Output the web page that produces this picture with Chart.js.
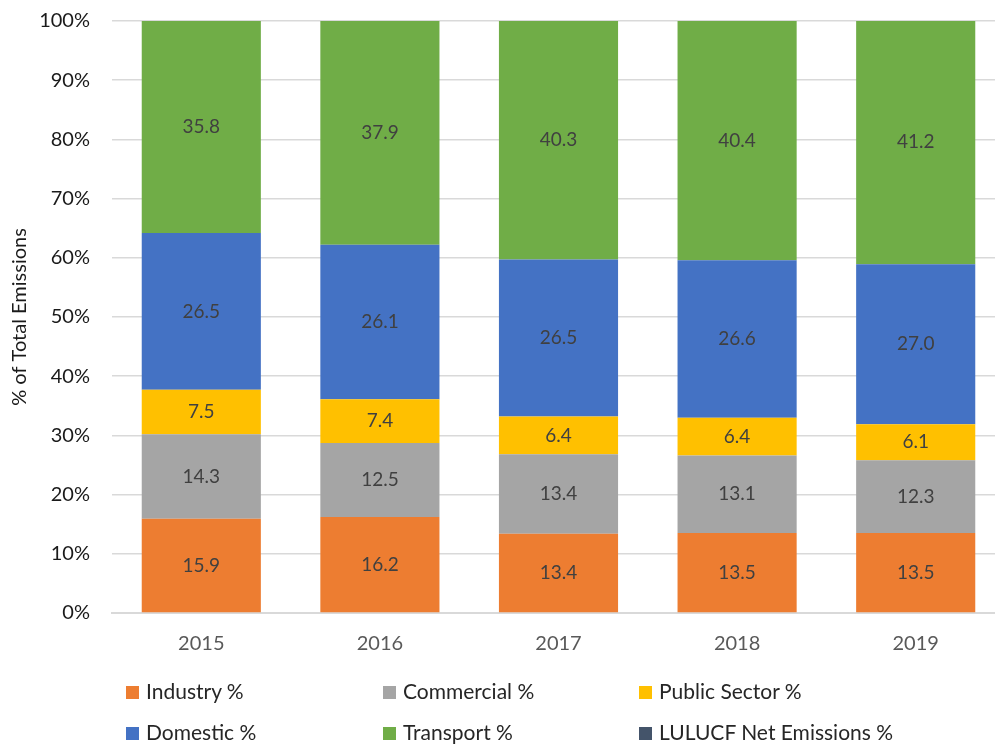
<!DOCTYPE html>
<html lang="en">
<head>
    <meta charset="UTF-8">
    <title>Emissions by sector</title>
    <script src="https://cdn.jsdelivr.net/npm/chart.js@4.4.0/dist/chart.umd.min.js"></script>
    <style>
        html, body { margin: 0; padding: 0; background: #fff; overflow: hidden; }
        #chart_parent { position: relative; width: 1005px; height: 745px; }
        .legend { position: absolute; font-family: Lato, "Noto Sans", sans-serif; font-size: 21px; color: #262626; }
        .legend span.box { display: inline-block; width: 13px; height: 13px; margin-right: 7px; vertical-align: 0px; }
    </style>
</head>
<body>
<div id="chart_parent">
    <canvas id="myChart" width="1005" height="745"></canvas>
    <div id="legend"></div>
</div>
<script>
    var years = ['2015', '2016', '2017', '2018', '2019'];
    var industry   = [15.9, 16.2, 13.4, 13.5, 13.5];
    var commercial = [14.3, 12.5, 13.4, 13.1, 12.3];
    var publicSec  = [7.5, 7.4, 6.4, 6.4, 6.1];
    var domestic   = [26.5, 26.1, 26.5, 26.6, 27.0];
    var transport  = [35.8, 37.9, 40.3, 40.4, 41.2];
    var lulucf     = [0, 0, 0, 0, 0];
    var yTicks = [0, 10, 20, 30, 40, 50, 60, 70, 80, 90, 100];

    var FONT = 'Lato, "Noto Sans", sans-serif';

    var series = [
        { label: 'Industry %', data: industry, color: '#ED7D31' },
        { label: 'Commercial %', data: commercial, color: '#A5A5A5' },
        { label: 'Public Sector %', data: publicSec, color: '#FFC000' },
        { label: 'Domestic %', data: domestic, color: '#4472C4' },
        { label: 'Transport %', data: transport, color: '#70AD47' },
        { label: 'LULUCF Net Emissions %', data: lulucf, color: '#44546A' }
    ];

    // legend: 3 columns, 2 rows (like excel)
    var legendPos = [[126, 678], [383, 678], [639, 678], [126, 719], [383, 719], [639, 719]];
    var legendDiv = document.getElementById('legend');
    series.forEach(function(s, i){
        var d = document.createElement('div');
        d.className = 'legend';
        d.style.left = legendPos[i][0] + 'px';
        d.style.top = legendPos[i][1] + 'px';
        d.innerHTML = '<span class="box" style="background:' + s.color + '"></span>' + s.label;
        legendDiv.appendChild(d);
    });

    // values written in the middle of each segment
    var valueLabels = {
        id: 'valueLabels',
        afterDatasetsDraw: function(chart){
            var ctx = chart.ctx;
            ctx.save();
            ctx.font = '19px ' + FONT;
            ctx.fillStyle = '#404040';
            ctx.textAlign = 'center';
            ctx.textBaseline = 'middle';
            chart.data.datasets.forEach(function(ds, i){
                if (!ds.data.some(function(v){ return v > 0; })) return;
                chart.getDatasetMeta(i).data.forEach(function(bar, j){
                    var mid = (bar.y + bar.base) / 2;
                    ctx.fillText(ds.data[j].toFixed(1), bar.x, mid);
                });
            });
            ctx.restore();
        }
    };

    const ctx = document.getElementById('myChart').getContext('2d');
    const myChart = new Chart(ctx, {
        type: 'bar',
        data: {
            labels: years,
            datasets: series.map(function(s){
                return {
                    label: s.label,
                    data: s.data,
                    backgroundColor: s.color,
                    borderWidth: 0,
                    barPercentage: 0.667,
                    categoryPercentage: 1.0
                };
            })
        },
        options: {
            responsive: false,
            animation: false,
            layout: { padding: { top: 21, right: 0, bottom: 70, left: 8 } },
            plugins: {
                legend: { display: false },
                tooltip: { enabled: false }
            },
            scales: {
                x: {
                    stacked: true,
                    grid: { display: false, drawTicks: false },
                    border: { display: true, color: '#D9D9D9', width: 2 },
                    ticks: { color: '#595959', padding: 19, font: { family: FONT, size: 20 } }
                },
                y: {
                    stacked: true,
                    min: 0,
                    max: 100,
                    afterBuildTicks: function(scale){
                        scale.ticks = yTicks.map(function(v){ return { value: v }; });
                    },
                    afterFit: function(scale){
                        scale.width = 104;
                        scale.paddingTop = 0;
                        scale.paddingBottom = 0;
                    },
                    grid: { color: '#D9D9D9', lineWidth: 1.5, drawTicks: false },
                    border: { display: false },
                    ticks: {
                        color: '#1a1a1a',
                        padding: 22,
                        font: { family: FONT, size: 20 },
                        callback: function(v){ return v + '%'; }
                    },
                    title: {
                        display: true,
                        text: '% of Total Emissions',
                        color: '#1a1a1a',
                        padding: { top: 0, bottom: 0 },
                        font: { family: FONT, size: 20 }
                    }
                }
            }
        },
        plugins: [valueLabels]
    });
</script>
</body>
</html>
